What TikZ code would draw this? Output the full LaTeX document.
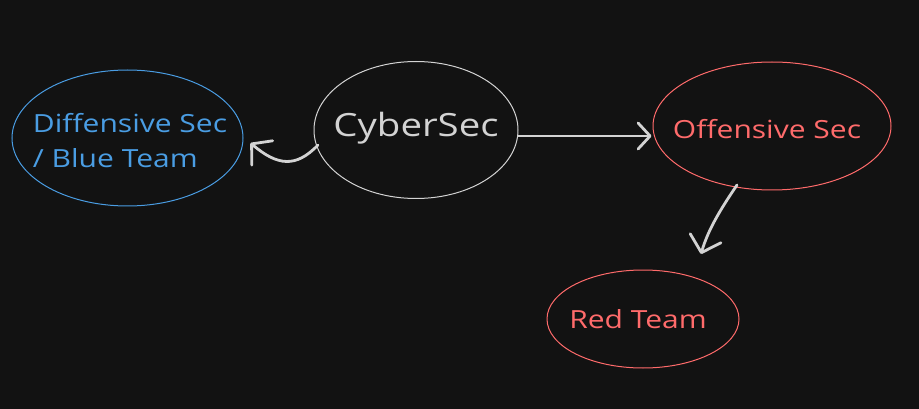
\documentclass[tikz,border=0pt]{standalone}
\usepackage{fontspec}
\setmainfont{Open Sans}
\newfontfamily\handfont[FakeStretch=1.2]{Open Sans}
\usetikzlibrary{arrows.meta,shapes.geometric,calc}
\definecolor{bg}{HTML}{121212}
\definecolor{grayline}{HTML}{D3D3D3}
\definecolor{bluec}{HTML}{4A9DE3}
\definecolor{redc}{HTML}{FF6B6B}
\begin{document}
\begin{tikzpicture}[x=1pt,y=-1pt,
  bubble/.style={ellipse, draw, line width=1pt, inner sep=0pt},
  lbl/.style={inner sep=0pt},
  conn/.style={draw=grayline, line width=2.8pt, line cap=round, line join=round,
    -{Straight Barb[length=12pt,width=26pt,round]}}]
\fill[bg] (0,0) rectangle (919,409);
\useasboundingbox (0,0) rectangle (919,409);
% ellipses
\node[bubble, draw=grayline, minimum width=204pt, minimum height=137pt] (cyber) at (416,130) {};
\node[bubble, draw=bluec, minimum width=231pt, minimum height=136pt] (blue) at (127.5,138) {};
\node[bubble, draw=redc, minimum width=238pt, minimum height=128pt] (off) at (772,126) {};
\node[bubble, draw=redc, minimum width=192pt, minimum height=98pt] (red) at (643,319) {};
% labels
\node[lbl, text=grayline, font=\handfont\fontsize{32}{36}\selectfont] (cybert) at (416,128) {CyberSec};
\node[lbl, text=bluec, font=\handfont\fontsize{25}{35}\selectfont, align=left] (bluet) at (130,141) {Diffensive Sec\\/ Blue Team};
\node[lbl, text=redc, font=\handfont\fontsize{25}{28}\selectfont] (offt) at (767,129) {Offensive Sec};
\node[lbl, text=redc, font=\handfont\fontsize{25}{28}\selectfont] (redt) at (638,319) {Red Team};
% connectors
\draw[conn, -{Straight Barb[length=14pt,width=32pt,round]}] ($(cyber.center)+(-98,15)$) .. controls ($(cyber.center)+(-120,38)$) and ($(blue.center)+(150,28)$) .. ($(blue.center)+(123,5)$);
\draw[conn] ($(cyber.east)+(0,6)$) -- ($(off.west)+(-1,10)$);
\draw[conn, -{Straight Barb[length=15pt,width=32pt,round]}] ($(off.center)+(-35,59)$) .. controls ($(off.center)+(-52,84)$) and ($(red.center)+(65,-89)$) .. ($(red.center)+(58,-65)$);
\end{tikzpicture}
\end{document}
